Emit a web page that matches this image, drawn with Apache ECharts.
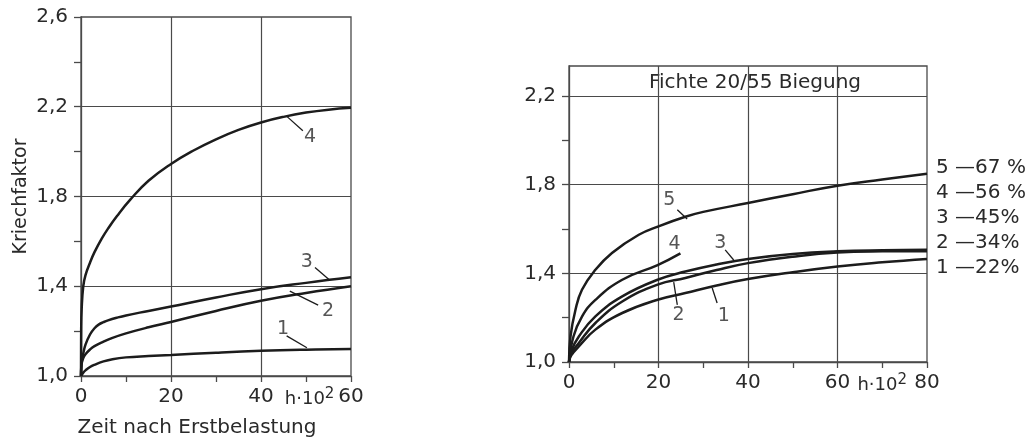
<!DOCTYPE html>
<html><head><meta charset="utf-8">
<script src="https://cdn.jsdelivr.net/npm/echarts@6/dist/echarts.min.js"></script>
<style>html,body{margin:0;padding:0;background:#fff}#c{width:1027px;height:443px}</style>
</head><body><div id="c"></div>
<script>
// ---------- data: left chart ----------
const leftXTicks = [0, 10, 20, 30, 40, 50, 60];
const leftXGrid = [20, 40];
const leftXLabels = [0, 20, 40, 50.8, 60];
const leftYTicks = [1.0, 1.2, 1.4, 1.6, 1.8, 2.0, 2.2, 2.4, 2.6];
const leftYGrid = [1.4, 1.8, 2.2];
const leftYLabels = [1.0, 1.4, 1.8, 2.2, 2.6];
const leftCurve4 = [[0,1.0],[0.04,1.2],[0.15,1.3],[0.5,1.4],[1,1.45],[2,1.505],[3,1.552],[4.6,1.612],[6,1.657],[8,1.713],[11,1.787],[15,1.87],[20,1.945],[25,2.005],[30,2.055],[35,2.097],[40,2.13],[45,2.155],[50,2.174],[55,2.187],[60,2.195]];
const leftCurve3 = [[0,1.0],[0.2,1.07],[0.5,1.1],[1,1.14],[2,1.185],[3,1.213],[4,1.23],[5,1.24],[6,1.248],[8,1.26],[10,1.27],[15,1.29],[20,1.31],[30,1.35],[40,1.387],[50,1.415],[60,1.44]];
const leftCurve2 = [[0,1.0],[0.1,1.05],[0.5,1.08],[1,1.097],[2,1.118],[3,1.133],[5,1.153],[7,1.17],[10,1.19],[15,1.217],[20,1.241],[30,1.29],[40,1.335],[50,1.37],[60,1.4]];
const leftCurve1 = [[0,1.0],[0.5,1.015],[1,1.025],[2,1.04],[3,1.05],[5,1.065],[7,1.075],[10,1.083],[15,1.089],[20,1.094],[30,1.104],[40,1.112],[50,1.117],[60,1.12]];
const leftCurveNames = ['4', '3', '2', '1'];
const leftLabelPos = [[50.9,2.067],[50.2,1.507],[54.9,1.289],[44.9,1.209]];
const leftLeaders = [[[45.8,2.156],[49.3,2.093]], [[52,1.484],[55.3,1.427]], [[46.4,1.378],[52.7,1.316]], [[45.7,1.179],[50.2,1.126]]];

// ---------- data: right chart ----------
const rightXTicks = [0, 10, 20, 30, 40, 50, 60, 70, 80];
const rightXGrid = [20, 40, 60];
const rightXLabels = [0, 20, 40, 60, 70, 80];
const rightYTicks = [1.0, 1.2, 1.4, 1.6, 1.8, 2.0, 2.2];
const rightYGrid = [1.4, 1.8, 2.2];
const rightYLabels = [1.0, 1.4, 1.8, 2.2];
const rightCurve5 = [[0,1.0],[0.33,1.115],[1.45,1.236],[2.9,1.326],[5.9,1.416],[9.6,1.492],[15.6,1.574],[20,1.612],[26,1.655],[30,1.677],[40,1.717],[50,1.757],[60,1.795],[70,1.823],[80,1.849]];
const rightCurve4 = [[0,1.0],[1,1.115],[2.9,1.205],[5.9,1.28],[11.9,1.371],[19.8,1.437],[24.9,1.49]];
const rightCurve3 = [[0,1.0],[0.5,1.05],[2.2,1.115],[5.9,1.206],[11.9,1.296],[19.8,1.371],[26,1.408],[33,1.44],[40,1.465],[50,1.487],[60,1.499],[70,1.504],[80,1.506]];
const rightCurve2 = [[0,1.0],[0.5,1.04],[2.2,1.086],[5.9,1.176],[11.9,1.273],[19.8,1.349],[26,1.379],[33,1.415],[40,1.446],[50,1.475],[60,1.494],[70,1.499],[80,1.5]];
const rightCurve1 = [[0,1.0],[0.5,1.03],[2.2,1.07],[5.9,1.146],[11.9,1.221],[19.8,1.281],[26,1.311],[33,1.345],[40,1.374],[50,1.405],[60,1.431],[70,1.45],[80,1.465]];
const rightCurveNames = ['5', '4', '3', '2', '1'];
const rightLoads = ['67 %', '56 %', '45%', '34%', '22%'];
const rightLabelPos = [[22.4,1.732],[23.6,1.53],[33.8,1.537],[24.5,1.213],[34.6,1.206]];
const rightLeaders = [[[24.2,1.687],[26.4,1.645]], null, [[34.9,1.506],[36.8,1.46]], [[24.2,1.258],[23.4,1.36]], [[33.1,1.266],[32,1.334]]];

const leftTitleY = 'Kriechfaktor';
const leftTitleX = 'Zeit nach Erstbelastung';
const rightTitle = 'Fichte 20/55 Biegung';
const unitText = 'h·10';

// ---------- styles ----------
const FONT = 'DejaVu Sans';
const TXT = '#2a2a2a';
const AX = '#4a4a4a';
const CURVE = '#1c1c1c';
const fmtY = v => v.toFixed(1).replace('.', ',');
const unitRich = { u: { fontSize: 18, fontFamily: FONT, color: TXT }, s: { fontSize: 15, fontFamily: FONT, color: TXT, padding: [0, 0, 10, 0] } };

function xAxisCfg(idx, max, ticks, labels, unitAt) {
  return {
    type: 'value', gridIndex: idx, min: 0, max: max, interval: 20,
    axisLine: { show: true, onZero: false, lineStyle: { color: AX, width: 1.3 } },
    axisTick: { show: true, customValues: ticks, length: 6, inside: false, lineStyle: { color: AX, width: 1.3 } },
    axisLabel: {
      customValues: labels, margin: 11, fontSize: 20, fontFamily: FONT, color: TXT,
      formatter: v => (v === unitAt ? '{u|' + unitText + '}{s|2}' : String(v)),
      rich: unitRich
    },
    splitLine: { show: false }
  };
}
function yAxisCfg(idx, max, ticks, labels) {
  return {
    type: 'value', gridIndex: idx, min: 1.0, max: max, interval: 0.4,
    axisLine: { show: true, onZero: false, lineStyle: { color: AX, width: 1.3 } },
    axisTick: { show: true, customValues: ticks, length: 7, inside: false, lineStyle: { color: AX, width: 1.3 } },
    axisLabel: { customValues: labels, margin: 13, fontSize: 20, fontFamily: FONT, color: TXT, formatter: fmtY },
    splitLine: { show: false }
  };
}

const series = [];
function addCurves(idx, curves, names, labelPos, leaders, prefix, xGrid, yGrid) {
  series.push({
    type: 'line', xAxisIndex: idx, yAxisIndex: idx, data: [], silent: true, z: 2,
    markLine: {
      silent: true, animation: false, symbol: ['none', 'none'], label: { show: false },
      lineStyle: { color: AX, width: 1.2, type: 'solid' },
      emphasis: { disabled: true },
      data: xGrid.map(v => ({ xAxis: v })).concat(yGrid.map(v => ({ yAxis: v })))
    }
  });
  curves.forEach((d, i) => {
    series.push({
      name: prefix + names[i], type: 'line', xAxisIndex: idx, yAxisIndex: idx, data: d,
      showSymbol: false, symbol: 'none', smooth: 0.45, silent: true,
      lineStyle: { color: CURVE, width: 2.5 }, itemStyle: { color: CURVE }, z: 5
    });
    if (leaders[i]) {
      series.push({
        type: 'line', xAxisIndex: idx, yAxisIndex: idx, data: leaders[i], symbol: 'none', silent: true,
        lineStyle: { color: CURVE, width: 1.3 }, z: 5
      });
    }
  });
  series.push({
    type: 'scatter', xAxisIndex: idx, yAxisIndex: idx, symbolSize: 0, silent: true, z: 6,
    data: labelPos.map((p, i) => ({ value: p, name: names[i] })),
    label: { show: true, position: 'inside', formatter: '{b}', fontSize: 19, fontFamily: FONT, color: TXT }
  });
}
addCurves(0, [leftCurve4, leftCurve3, leftCurve2, leftCurve1], leftCurveNames, leftLabelPos, leftLeaders, 'L', leftXGrid, leftYGrid);
addCurves(1, [rightCurve5, rightCurve4, rightCurve3, rightCurve2, rightCurve1], rightCurveNames, rightLabelPos, rightLeaders, '', rightXGrid, rightYGrid);

const leftX = xAxisCfg(0, 60, leftXTicks, leftXLabels, 50.8);
leftX.name = leftTitleX; leftX.nameLocation = 'middle'; leftX.nameGap = 42;
leftX.nameTextStyle = { fontSize: 20, fontFamily: FONT, color: TXT, padding: [0, 38, 0, 0] };
const leftY = yAxisCfg(0, 2.6, leftYTicks, leftYLabels);
leftY.name = leftTitleY; leftY.nameLocation = 'middle'; leftY.nameGap = 50; leftY.nameRotate = 90;
leftY.nameTextStyle = { fontSize: 19, fontFamily: FONT, color: TXT };

const option = {
  animation: false,
  backgroundColor: '#ffffff',
  grid: [
    { left: 81, top: 17, width: 270, height: 360, show: true, borderColor: AX, borderWidth: 1.3, backgroundColor: 'transparent' },
    { left: 569, top: 66, width: 358, height: 296, show: true, borderColor: AX, borderWidth: 1.3, backgroundColor: 'transparent' }
  ],
  xAxis: [leftX, xAxisCfg(1, 80, rightXTicks, rightXLabels, 70)],
  yAxis: [leftY, yAxisCfg(1, 2.335, rightYTicks, rightYLabels)],
  legend: {
    data: rightCurveNames, orient: 'vertical', left: 936, top: 158, padding: 0,
    icon: 'none', itemWidth: 0, itemHeight: 20, itemGap: 5, selectedMode: false,
    textStyle: { fontSize: 20, fontFamily: FONT, color: TXT, padding: [0, 0, 0, -5] },
    formatter: name => name + ' \u2014' + rightLoads[rightCurveNames.indexOf(name)]
  },
  graphic: [{
    type: 'text', x: 755, y: 83, silent: true,
    style: { text: rightTitle, fontSize: 20, fontFamily: FONT, fill: TXT, textAlign: 'center', textVerticalAlign: 'middle' }
  }],
  series: series
};
const chart = echarts.init(document.getElementById('c'), null, { renderer: 'canvas' });
chart.setOption(option);
</script></body></html>
